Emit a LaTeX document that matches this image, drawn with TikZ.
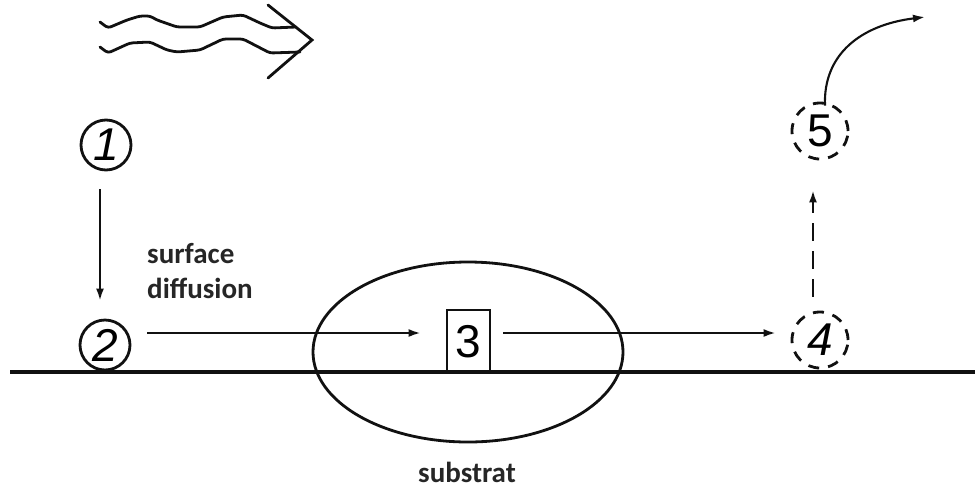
\documentclass[tikz,border=0pt]{standalone}
\usepackage{fontspec}
\usetikzlibrary{arrows.meta,shapes.geometric}
\newfontfamily\labelfont{Carlito}
\newfontfamily\digitfont{Liberation Sans}
\definecolor{ink}{HTML}{111111}
\definecolor{labelink}{HTML}{262626}
\tikzset{
  stage/.style={circle, draw=ink, line width=2.8pt, inner sep=0pt,
    minimum size=50pt, font=\digitfont\fontsize{46}{46}\selectfont},
  ghost/.style={stage, minimum size=56pt, dash pattern=on 11pt off 9pt},
  site/.style={rectangle, draw=ink, line width=2.8pt, inner sep=0pt,
    minimum width=43pt, minimum height=63pt,
    font=\digitfont\fontsize{46}{46}\selectfont},
  flow/.style={draw=ink, line width=2.1pt, -{Latex[length=12pt,width=8pt]}},
  caption/.style={text=labelink, inner sep=0pt,
    font=\labelfont\bfseries\fontsize{29}{35}\selectfont},
}
\begin{document}
\begin{tikzpicture}[x=1pt, y=-1pt]
  \useasboundingbox (0,0) rectangle (975,488);
  \fill[white] (0,0) rectangle (975,488);

  % incoming flux (wavy double arrow)
  \begin{scope}[draw=ink, line width=2.8pt, rounded corners=3pt, line cap=round, line join=round]
    \draw (100,22) -- (108,28) -- (127,20) -- (140,16) -- (150,16) -- (157,20)
          -- (177,27) -- (200,27) -- (223,17) -- (243,15) -- (260,23) -- (272,28) -- (296,27);
    \draw (100,47) -- (108,53) -- (130,43) -- (150,42) -- (167,50) -- (177,52)
          -- (200,50) -- (223,39) -- (243,39) -- (270,53) -- (300,52);
  \end{scope}
  \draw[ink, line width=2.8pt, line cap=round, line join=miter] (268,5) -- (312,40) -- (268,78);

  % substrate surface
  \coordinate (surfL) at (10,372);
  \coordinate (surfR) at (975,372);
  \draw[ink, line width=3.6pt] (surfL) -- (surfR);

  % substrate region
  \node[ellipse, draw=ink, line width=2.8pt, inner sep=0pt,
        minimum width=310pt, minimum height=180pt] (sub) at (468,352) {};
  \node[caption, anchor=base] (subtxt) at (467,482) {substrat};

  % adsorbed species stages
  \node[stage] (n1) at (106,145) {\itshape 1};
  \node[stage] (n2) at (105,345) {\itshape 2};
  \node[site]  (n3) at (468.5,341.5) {3};
  \node[ghost] (n4) at (820,340) {\itshape 4};
  \node[ghost] (n5) at (820,131) {5};

  \node[caption, anchor=base west, align=left] (diff) at (147,298) {surface\\diffusion};

  % transitions
  \draw[flow] ([shift={(-6,18)}]n1.south) -- ([shift={(-5,-18)}]n2.north);
  \draw[flow] ([shift={(16,-12)}]n2.east) -- ([shift={(-25,-8.5)}]n3.west);
  \draw[flow] ([shift={(12,-8.5)}]n3.east) -- ([shift={(-15,-7)}]n4.west);
  \draw[flow, dash pattern=on 18pt off 10pt] ([shift={(-7,-14)}]n4.north) -- ([shift={(-7,30)}]n5.south);
  \coordinate (away) at (925,17);
  \draw[flow] ([shift={(5,4)}]n5.north) .. controls (823,55) and (860,25) .. (away);
\end{tikzpicture}
\end{document}
